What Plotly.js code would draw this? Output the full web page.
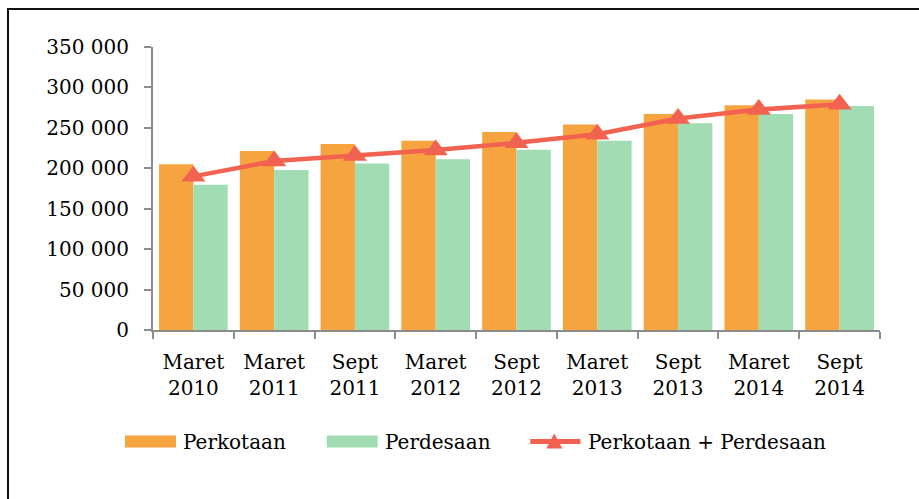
<!DOCTYPE html>
<html>
<head>
<meta charset="utf-8">
<script src="https://cdn.plot.ly/plotly-3.0.1.min.js"></script>
<style>
  html, body { margin: 0; padding: 0; background: #fff; }
  #wrap { position: relative; width: 919px; height: 499px; overflow: hidden; }
  #chart { position: absolute; left: 0; top: 0; width: 919px; height: 499px; }
  #frame { position: absolute; left: 7px; top: 8px; width: 950px; height: 520px;
           border-left: 2px solid #111; border-top: 2px solid #111; pointer-events: none; }
</style>
</head>
<body>
<div id="wrap">
  <div id="chart"></div>
  <div id="frame"></div>
</div>
<script>
// ---- data ----
const categories = ["Maret<br>2010", "Maret<br>2011", "Sept<br>2011", "Maret<br>2012", "Sept<br>2012",
                    "Maret<br>2013", "Sept<br>2013", "Maret<br>2014", "Sept<br>2014"];
const perkotaan = [205000, 221500, 230000, 234000, 245000, 254000, 267000, 278000, 285000];
const perdesaan = [179500, 198000, 205800, 211200, 223000, 234200, 255700, 267200, 277100];
const total     = [190000, 209000, 215800, 222500, 231500, 242000, 261500, 272600, 279200];
const seriesNames = ["Perkotaan", "Perdesaan", "Perkotaan + Perdesaan"];

// ---- styles ----
const cOrange = "#F6A440", cGreen = "#A2DCB2", cLine = "#F26250";
const FONT = "DejaVu Serif, serif";

const traces = [
  { type: "bar", x: categories, y: perkotaan, name: seriesNames[0], marker: { color: cOrange }, showlegend: false },
  { type: "bar", x: categories, y: perdesaan, name: seriesNames[1], marker: { color: cGreen }, showlegend: false },
  { type: "scatter", mode: "lines+markers", x: categories, y: total, name: seriesNames[2],
    line: { color: cLine, width: 4.5 }, marker: { symbol: "triangle-up", size: 21, color: cLine },
    showlegend: false, cliponaxis: false }
];

// custom legend (wide swatches like the original)
const legY = -0.394;
const shapes = [
  { type: "rect", xref: "paper", yref: "paper", x0: -0.0385, x1: 0.0316, y0: legY - 0.021, y1: legY + 0.021,
    fillcolor: cOrange, line: { width: 0 } },
  { type: "rect", xref: "paper", yref: "paper", x0: 0.239, x1: 0.309, y0: legY - 0.021, y1: legY + 0.021,
    fillcolor: cGreen, line: { width: 0 } },
  { type: "line", xref: "paper", yref: "paper", x0: 0.519, x1: 0.588, y0: legY, y1: legY,
    line: { color: cLine, width: 5 } },
  { type: "path", xref: "paper", yref: "paper", xsizemode: "pixel", ysizemode: "pixel",
    xanchor: 0.552, yanchor: legY, path: "M-8,-7 L8,-7 L0,8 Z", fillcolor: cLine, line: { width: 0 } }
];
const annotations = [
  { x: 0.0385, text: seriesNames[0] },
  { x: 0.316, text: seriesNames[1] },
  { x: 0.596, text: seriesNames[2] }
].map(a => ({ xref: "paper", yref: "paper", x: a.x, y: legY, text: a.text, showarrow: false,
             xanchor: "left", yanchor: "middle", font: { family: FONT, size: 20, color: "#000" } }));

const layout = {
  width: 919, height: 499,
  margin: { l: 153, r: 39, t: 47, b: 169 },
  paper_bgcolor: "#fff", plot_bgcolor: "#fff",
  separators: ". ",
  barmode: "group", bargap: 0.15, bargroupgap: 0,
  font: { family: FONT, size: 20, color: "#000" },
  showlegend: false,
  xaxis: {
    type: "category", range: [-0.5, 8.5], autorange: false,
    showline: true, linecolor: "#8c8c8c", linewidth: 2,
    ticks: "outside", tickson: "boundaries", ticklen: 7, tickwidth: 2, tickcolor: "#8c8c8c",
    showgrid: false, zeroline: false, tickangle: 0, ticklabelstandoff: 13,
    tickfont: { family: FONT, size: 20, color: "#000" }
  },
  yaxis: {
    range: [0, 350000], autorange: false, dtick: 50000, tickformat: ",", showline: true, linecolor: "#8c8c8c", linewidth: 2,
    ticks: "outside", ticklen: 7, tickwidth: 2, tickcolor: "#8c8c8c", showgrid: false, zeroline: false,
    ticklabelstandoff: 11, tickfont: { family: FONT, size: 20, color: "#000" }
  },
  shapes: shapes,
  annotations: annotations
};

Plotly.newPlot("chart", traces, layout, { displayModeBar: false, staticPlot: true });
</script>
</body>
</html>
